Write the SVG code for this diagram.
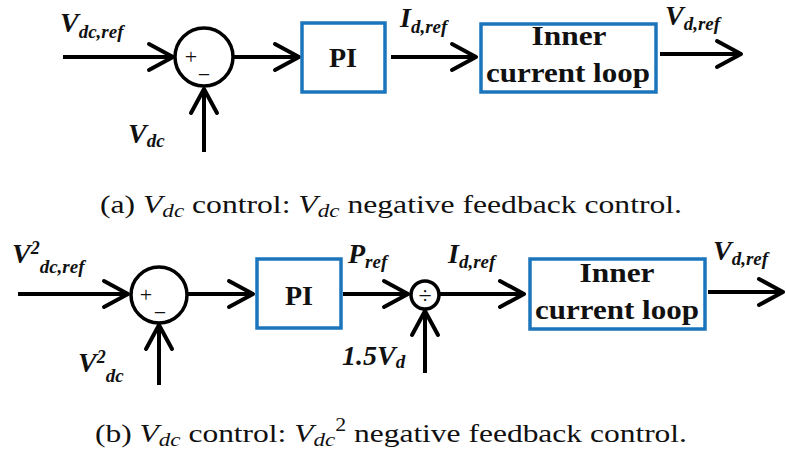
<svg xmlns="http://www.w3.org/2000/svg" width="786" height="457" viewBox="0 0 786 457">
<style>
.ln{stroke:#000;stroke-width:4;fill:none;marker-end:url(#ah)}
.sum{stroke:#000;stroke-width:3.5;fill:none}
.box{stroke:#1b75bc;stroke-width:3.5;fill:#fff}
text{font-family:'Liberation Serif','Times New Roman','DejaVu Serif',serif;fill:#111}
.lbl{font-weight:bold;font-style:italic}
.blk{font-weight:bold}
.cap{font-size:26px}
</style>
<defs>
<marker id="ah" markerUnits="userSpaceOnUse" markerWidth="40" markerHeight="40" viewBox="-30 -20 40 40" refX="0" refY="0" orient="auto">
<path d="M-24,-13 L0,0 L-24,13" fill="none" stroke="#000" stroke-width="4" stroke-linecap="round" stroke-linejoin="round"/>
</marker>
</defs>

<g id="connectors">
<path class="ln" d="M63,57 H173"/>
<path class="ln" d="M233,57 H299"/>
<path class="ln" d="M391,57 H476"/>
<path class="ln" d="M660,54 H741"/>
<path class="ln" d="M204,152 V89"/>
<path class="ln" d="M18,294 H128"/>
<path class="ln" d="M188,294 H253"/>
<path class="ln" d="M343,294 H408"/>
<path class="ln" d="M440,294 H524"/>
<path class="ln" d="M708,292 H783"/>
<path class="ln" d="M159,385 V325"/>
<path class="ln" d="M425,373 V311"/>
</g>

<g id="sum1">
<circle class="sum" cx="204" cy="57" r="29"/>
<text x="191" y="64" font-size="22" text-anchor="middle">+</text>
<text x="204" y="82" font-size="22" text-anchor="middle">−</text>
</g>
<g id="pi1">
<rect class="box" x="302" y="23" width="83" height="69"/>
<text class="blk" x="343" y="67" font-size="28" text-anchor="middle">PI</text>
</g>
<g id="inner1">
<rect class="box" x="481" y="24" width="175" height="68"/>
<text class="blk" x="569" y="45" font-size="27" text-anchor="middle" textLength="75" lengthAdjust="spacingAndGlyphs">Inner</text>
<text class="blk" x="568" y="82" font-size="27" text-anchor="middle" textLength="164" lengthAdjust="spacingAndGlyphs">current loop</text>
</g>

<g id="labels1">
<text class="lbl" x="60" y="32" font-size="28">V<tspan font-size="19" dy="6">dc,ref</tspan></text>
<text class="lbl" x="128" y="143" font-size="28">V<tspan font-size="19" dy="4">dc</tspan></text>
<text class="lbl" x="400" y="27" font-size="28">I<tspan font-size="19" dy="6">d,ref</tspan></text>
<text class="lbl" x="665" y="25" font-size="28">V<tspan font-size="19" dy="5">d,ref</tspan></text>
</g>

<text id="capA" class="cap" x="100" y="213" textLength="582" lengthAdjust="spacingAndGlyphs">(a) <tspan font-style="italic">V</tspan><tspan font-style="italic" font-size="19" dy="4">dc</tspan><tspan dy="-4"> control: </tspan><tspan font-style="italic">V</tspan><tspan font-style="italic" font-size="19" dy="4">dc</tspan><tspan dy="-4"> negative feedback control.</tspan></text>

<g id="sum2">
<circle class="sum" cx="159" cy="295" r="28"/>
<text x="146" y="302" font-size="22" text-anchor="middle">+</text>
<text x="160" y="320" font-size="22" text-anchor="middle">−</text>
</g>
<g id="pi2">
<rect class="box" x="257" y="259" width="84" height="69"/>
<text class="blk" x="299" y="305" font-size="28" text-anchor="middle">PI</text>
</g>
<g id="div">
<circle class="sum" cx="425" cy="295" r="14"/>
<text x="425" y="303" font-size="24" text-anchor="middle">÷</text>
</g>
<g id="inner2">
<rect class="box" x="530" y="259" width="175" height="70"/>
<text class="blk" x="617" y="282" font-size="27" text-anchor="middle" textLength="75" lengthAdjust="spacingAndGlyphs">Inner</text>
<text class="blk" x="617" y="319" font-size="27" text-anchor="middle" textLength="164" lengthAdjust="spacingAndGlyphs">current loop</text>
</g>

<g id="labels2">
<text class="lbl" x="12" y="263" font-size="28">V<tspan font-size="18" dy="-9">2</tspan><tspan font-size="19" dy="19">dc,ref</tspan></text>
<text class="lbl" x="78" y="372" font-size="28">V<tspan font-size="18" dy="-9">2</tspan><tspan font-size="19" dy="19">dc</tspan></text>
<text class="lbl" x="348" y="263" font-size="28">P<tspan font-size="19" dy="5">ref</tspan></text>
<text class="lbl" x="448" y="263" font-size="28">I<tspan font-size="19" dy="5">d,ref</tspan></text>
<text class="lbl" x="713" y="260" font-size="28">V<tspan font-size="19" dy="5">d,ref</tspan></text>
<text class="lbl" x="342" y="365" font-size="28">1.5V<tspan font-size="19" dy="3">d</tspan></text>
</g>

<text id="capB" class="cap" x="95" y="442" textLength="592" lengthAdjust="spacingAndGlyphs">(b) <tspan font-style="italic">V</tspan><tspan font-style="italic" font-size="19" dy="4">dc</tspan><tspan dy="-4"> control: </tspan><tspan font-style="italic">V</tspan><tspan font-style="italic" font-size="19" dy="4">dc</tspan><tspan font-size="18" dy="-15">2</tspan><tspan dy="11"> negative feedback control.</tspan></text>
</svg>
